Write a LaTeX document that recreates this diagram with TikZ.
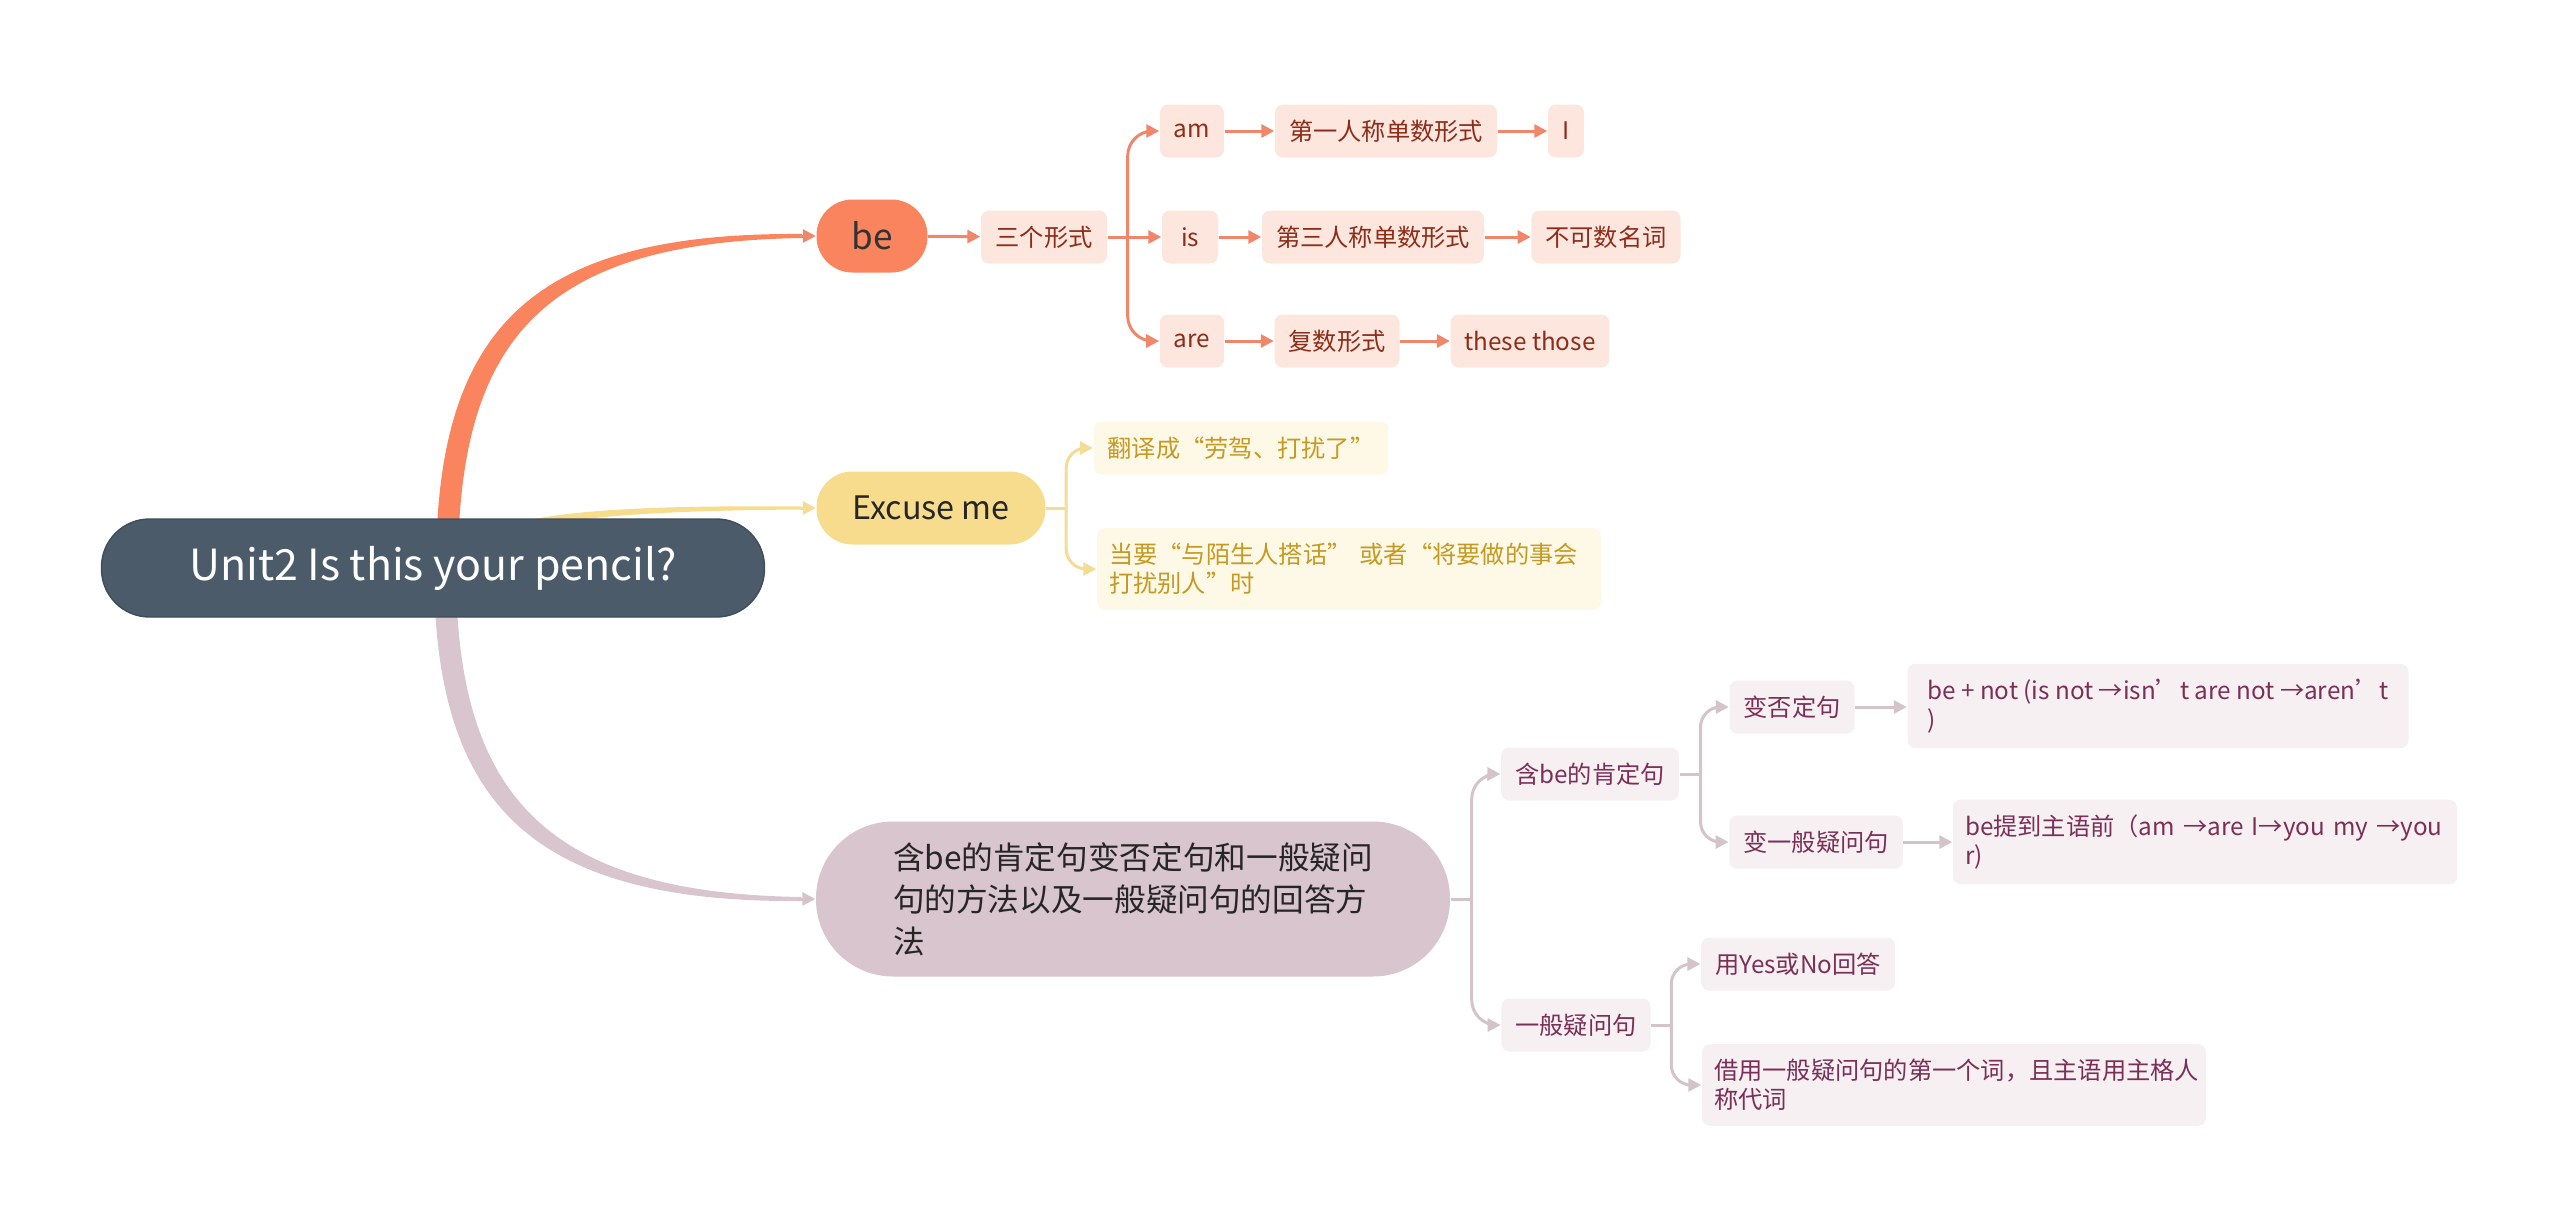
\documentclass[tikz,border=0pt]{standalone}
\usepackage{fontspec}
\setmainfont{Noto Sans CJK SC}
\usepackage{tikz}
\usetikzlibrary{arrows.meta,calc,backgrounds}
\definecolor{rootfill}{HTML}{4B5B69}
\definecolor{rootline}{HTML}{3F4D5A}
\definecolor{befill}{HTML}{F9845E}
\definecolor{orangeleaf}{HTML}{FDE6DE}
\definecolor{orangetext}{HTML}{8C2D19}
\definecolor{orangeline}{HTML}{F0876A}
\definecolor{excfill}{HTML}{F6DC8C}
\definecolor{yellowleaf}{HTML}{FEF8E6}
\definecolor{yellowtext}{HTML}{C49A22}
\definecolor{yellowline}{HTML}{F5DC94}
\definecolor{methfill}{HTML}{D8C5CD}
\definecolor{mauveleaf}{HTML}{F6F0F2}
\definecolor{mauvetext}{HTML}{7B2F57}
\definecolor{mauveline}{HTML}{D5C3CA}

\tikzset{
  leaf/.style={rounded corners=0.8mm, inner xsep=1.4mm, inner ysep=1.5mm, minimum height=5.3mm, font=\fontsize{6.9pt}{8.3pt}\selectfont},
  longleaf/.style={leaf, text width=48mm, inner xsep=1.2mm, align=left},
  oleaf/.style={leaf, fill=orangeleaf, text=orangetext},
  yleaf/.style={leaf, fill=yellowleaf, text=yellowtext},
  mleaf/.style={leaf, fill=mauveleaf, text=mauvetext},
  olink/.style={-{Triangle[length=1.3mm,width=1.3mm]}, line width=0.3mm, orangeline},
  ylink/.style={-{Triangle[length=1.3mm,width=1.3mm]}, line width=0.3mm, yellowline},
  mlink/.style={-{Triangle[length=1.3mm,width=1.3mm]}, line width=0.3mm, mauveline},
}

\begin{document}
\begin{tikzpicture}[x=0.1mm, y=-0.1mm]
  \useasboundingbox (0,0) rectangle (2560,1231);

  % main topics
  \node[rounded corners=4.8mm, fill=rootfill, draw=rootline, text=white, minimum width=66.3mm, minimum height=9.8mm, font=\fontsize{12.2pt}{14pt}\selectfont] (root) at (433,568) {Unit2 Is this your pencil?};
  \node[rounded corners=3.6mm, fill=befill, text=black!80, minimum width=11.1mm, minimum height=7.3mm, font=\fontsize{10pt}{12pt}\selectfont] (be) at (872,236) {be};
  \node[rounded corners=3.6mm, fill=excfill, text=black!85, minimum width=22.9mm, minimum height=7.3mm, font=\fontsize{9.2pt}{11pt}\selectfont] (excuse) at (931,508) {Excuse me};
  \node[rounded corners=7.7mm, fill=methfill, text=black!85, text width=48mm, inner xsep=7.7mm, minimum height=15.5mm, align=left, font=\fontsize{9pt}{12pt}\selectfont] (method) at (1133,899) {含be的肯定句变否定句和一般疑问\\句的方法以及一般疑问句的回答方\\法};

  % be
  \node[oleaf, minimum width=12.6mm] (forms) at (1044,237) {三个形式};
  \node[oleaf, minimum width=5.9mm] (am) at (1192,131) {am};
  \node[oleaf, minimum width=21.9mm] (first) at (1386,131) {第一人称单数形式};
  \node[oleaf, minimum width=3.6mm] (pronI) at (1566,131) {I};
  \node[oleaf, minimum width=5.6mm] (is) at (1190,237) {is};
  \node[oleaf, minimum width=21.9mm] (third) at (1373,237) {第三人称单数形式};
  \node[oleaf, minimum width=14.3mm] (uncount) at (1606,237) {不可数名词};
  \node[oleaf, minimum width=5.9mm] (are) at (1192,341) {are};
  \node[oleaf, minimum width=12.1mm] (plural) at (1337,341) {复数形式};
  \node[oleaf, minimum width=15.7mm] (these) at (1530,341) {these those};

  % excuse me
  \node[yleaf, minimum width=28.8mm] (trans) at (1241,448) {翻译成“劳驾、打扰了”};
  \node[yleaf, longleaf] (when) at (1349,569) {当要“与陌生人搭话” 或者“将要做的事会\\打扰别人”时};

  % sentences
  \node[mleaf, minimum width=17.3mm] (pos) at (1590,774) {含be的肯定句};
  \node[mleaf, minimum width=11.7mm] (neg) at (1792,707) {变否定句};
  \node[mleaf, align=left, inner xsep=1.1mm, minimum width=50.1mm] (negrule) at (2158,706) {be + not (is not →isn’t are not →aren’t\\)};
  \node[mleaf, minimum width=16.5mm] (ques) at (1816,842) {变一般疑问句};
  \node[mleaf, longleaf] (quesrule) at (2205,842) {be提到主语前（am →are I→you my →you\\r)};
  \node[mleaf, minimum width=14.5mm] (gq) at (1576,1025) {一般疑问句};
  \node[mleaf, minimum width=19.1mm] (yesno) at (1798,964) {用Yes或No回答};
  \node[mleaf, longleaf] (answer) at (1954,1085) {借用一般疑问句的第一个词，且主语用主格人\\称代词};

  % tapered main branches
  \begin{scope}[on background layer]
    \fill[befill] ($(root.center)+(3,0)$) .. controls ($(root.center)+(3,-240)$) and ($(be.west)+(-285,-4)$) .. ($(be.west)+(-14,-2)$)
      -- ($(be.west)+(-14,2)$) .. controls ($(be.west)+(-272,6)$) and ($(root.center)+(25,-230)$) .. ($(root.center)+(25,0)$) -- cycle;
    \fill[excfill] ($(root.center)+(0,-5)$) .. controls (480,512) and (600,505) .. ($(excuse.west)+(-14,-1.5)$)
      -- ($(excuse.west)+(-14,1.5)$) .. controls (600,511) and (485,521) .. ($(root.center)+(0,5)$) -- cycle;
    \fill[methfill] ($(root.center)+(1,0)$) .. controls ($(root.center)+(1,235)$) and ($(method.west)+(-286,4)$) .. ($(method.west)+(-14,2)$)
      -- ($(method.west)+(-14,-2)$) .. controls ($(method.west)+(-272,-6)$) and ($(root.center)+(23,225)$) .. ($(root.center)+(23,0)$) -- cycle;
  \end{scope}
  \draw[olink] ($(be.west)+(-16,0)$) -- (be.west);
  \draw[ylink] ($(excuse.west)+(-16,0)$) -- (excuse.west);
  \draw[mlink] ($(method.west)+(-16,0)$) -- (method.west);

  % be links
  \coordinate (formsfork) at ($(forms.east)+(20,0)$);
  \draw[olink] (be) -- (forms);
  \draw[olink] (forms) -- (is);
  \draw[olink, rounded corners=2.5mm] (formsfork) |- (am.west);
  \draw[olink, rounded corners=2.5mm] (formsfork) |- (are.west);
  \draw[olink] (am) -- (first);
  \draw[olink] (first) -- (pronI);
  \draw[olink] (is) -- (third);
  \draw[olink] (third) -- (uncount);
  \draw[olink] (are) -- (plural);
  \draw[olink] (plural) -- (these);

  % excuse me links
  \coordinate (excfork) at ($(excuse.east)+(20,0)$);
  \draw[line width=0.3mm, yellowline] (excuse.east) -- (excfork);
  \draw[ylink, rounded corners=2mm] (excfork) |- (trans.west);
  \draw[ylink, rounded corners=2mm] (excfork) |- (when.west);

  % sentence links
  \coordinate (methfork) at ($(method.east)+(21,0)$);
  \draw[line width=0.3mm, mauveline] (method.east) -- (methfork);
  \draw[mlink, rounded corners=2.5mm] (methfork) |- (pos.west);
  \draw[mlink, rounded corners=2.5mm] (methfork) |- (gq.west);
  \coordinate (posfork) at ($(pos.east)+(21,0)$);
  \draw[line width=0.3mm, mauveline] (pos.east) -- (posfork);
  \draw[mlink, rounded corners=2mm] (posfork) |- (neg.west);
  \draw[mlink, rounded corners=2mm] (posfork) |- (ques.west);
  \draw[mlink] (neg) -- (neg -| negrule.west);
  \draw[mlink] (ques) -- (ques -| quesrule.west);
  \coordinate (gqfork) at ($(gq.east)+(20,0)$);
  \draw[line width=0.3mm, mauveline] (gq.east) -- (gqfork);
  \draw[mlink, rounded corners=2mm] (gqfork) |- (yesno.west);
  \draw[mlink, rounded corners=2mm] (gqfork) |- (answer.west);
\end{tikzpicture}
\end{document}
